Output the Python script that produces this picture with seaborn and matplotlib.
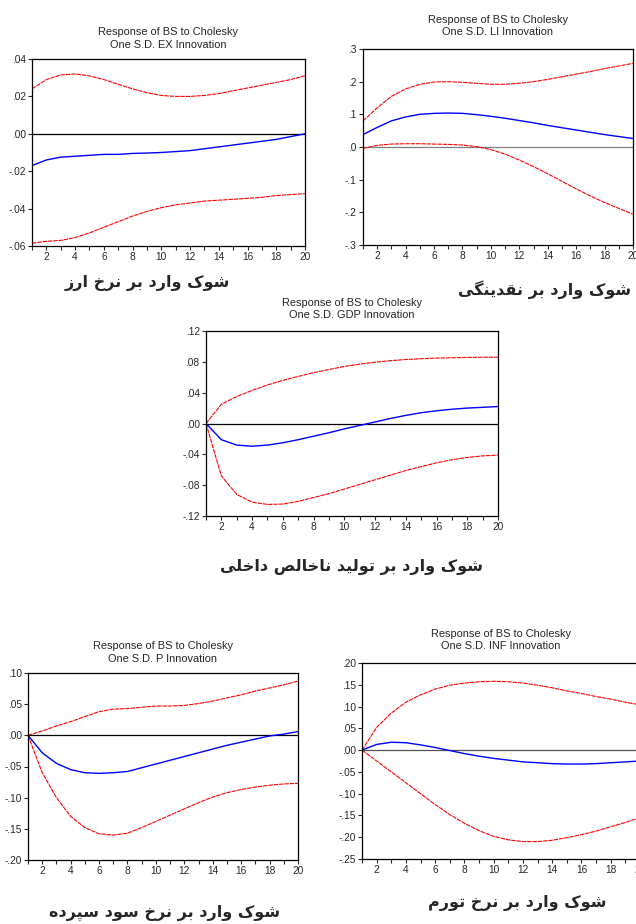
import numpy as np
import pandas as pd
import seaborn as sns
import matplotlib.pyplot as plt
from matplotlib.ticker import FuncFormatter

periods = list(range(1, 21))

# Response of BS to EX
ex_resp = [-0.017, -0.014, -0.0125, -0.012, -0.0115, -0.011, -0.011, -0.0105, -0.0103, -0.010,
           -0.0095, -0.009, -0.008, -0.007, -0.006, -0.005, -0.004, -0.003, -0.0015, 0.0]
ex_upper = [0.024, 0.029, 0.0315, 0.032, 0.031, 0.029, 0.0265, 0.024, 0.022, 0.0205,
            0.020, 0.020, 0.0205, 0.0215, 0.023, 0.0245, 0.026, 0.0275, 0.029, 0.031]
ex_lower = [-0.0585, -0.0575, -0.057, -0.0555, -0.053, -0.050, -0.047, -0.044, -0.0415, -0.0395,
            -0.038, -0.037, -0.036, -0.0355, -0.035, -0.0345, -0.034, -0.033, -0.0325, -0.032]

# Response of BS to LI
li_resp = [0.038, 0.06, 0.08, 0.092, 0.1, 0.103, 0.104, 0.103, 0.099, 0.094,
           0.088, 0.081, 0.074, 0.066, 0.059, 0.052, 0.045, 0.038, 0.032, 0.026]
li_upper = [0.08, 0.12, 0.155, 0.178, 0.192, 0.199, 0.2, 0.198, 0.195, 0.192,
            0.192, 0.195, 0.2, 0.207, 0.215, 0.223, 0.231, 0.24, 0.248, 0.256]
li_lower = [-0.004, 0.005, 0.009, 0.01, 0.01, 0.009, 0.008, 0.006, 0.001, -0.008,
            -0.022, -0.04, -0.06, -0.082, -0.105, -0.128, -0.15, -0.17, -0.188, -0.206]

# Response of BS to GDP
gdp_resp = [0.0, -0.021, -0.028, -0.0295, -0.028, -0.025, -0.021, -0.0165, -0.012, -0.007,
            -0.0025, 0.002, 0.0065, 0.0105, 0.014, 0.0165, 0.0185, 0.02, 0.021, 0.022]
gdp_upper = [0.0, 0.025, 0.035, 0.043, 0.05, 0.056, 0.061, 0.066, 0.07, 0.074,
             0.077, 0.0795, 0.0815, 0.083, 0.084, 0.0848, 0.0853, 0.0857, 0.086, 0.086]
gdp_lower = [0.0, -0.068, -0.092, -0.102, -0.105, -0.1045, -0.101, -0.096, -0.091, -0.085,
             -0.079, -0.073, -0.067, -0.061, -0.056, -0.051, -0.047, -0.044, -0.042, -0.041]

# Response of BS to P
p_resp = [0.0, -0.028, -0.045, -0.055, -0.06, -0.061, -0.06, -0.058, -0.052, -0.046,
          -0.04, -0.034, -0.028, -0.022, -0.016, -0.011, -0.006, -0.001, 0.002, 0.006]
p_upper = [0.0, 0.007, 0.015, 0.022, 0.03, 0.038, 0.042, 0.043, 0.045, 0.047,
           0.047, 0.048, 0.051, 0.055, 0.06, 0.065, 0.071, 0.076, 0.081, 0.087]
p_lower = [0.0, -0.06, -0.1, -0.13, -0.148, -0.158, -0.16, -0.157, -0.148, -0.138,
           -0.128, -0.118, -0.108, -0.099, -0.092, -0.087, -0.083, -0.08, -0.078, -0.077]

# Response of BS to INF
inf_resp = [0.0, 0.013, 0.018, 0.017, 0.012, 0.006, -0.001, -0.008, -0.014, -0.019,
            -0.023, -0.027, -0.029, -0.031, -0.032, -0.032, -0.031, -0.029, -0.027, -0.025]
inf_upper = [0.0, 0.052, 0.085, 0.11, 0.127, 0.14, 0.149, 0.154, 0.157, 0.158,
             0.157, 0.154, 0.149, 0.143, 0.136, 0.13, 0.123, 0.117, 0.11, 0.104]
inf_lower = [0.0, -0.025, -0.05, -0.075, -0.1, -0.125, -0.148, -0.168, -0.185, -0.198,
             -0.206, -0.21, -0.21, -0.207, -0.201, -0.194, -0.186, -0.176, -0.166, -0.155]

ex_ticks = [-0.06, -0.04, -0.02, 0.0, 0.02, 0.04]
li_ticks = [-0.3, -0.2, -0.1, 0.0, 0.1, 0.2, 0.3]
gdp_ticks = [-0.12, -0.08, -0.04, 0.0, 0.04, 0.08, 0.12]
p_ticks = [-0.20, -0.15, -0.10, -0.05, 0.0, 0.05, 0.10]
inf_ticks = [-0.25, -0.20, -0.15, -0.10, -0.05, 0.0, 0.05, 0.10, 0.15, 0.20]

# Persian letters -> (isolated, final, initial, medial); right-joining letters have no initial/medial
FORMS = {
    'ا': ('\uFE8D', '\uFE8E', None, None),
    'ب': ('\uFE8F', '\uFE90', '\uFE91', '\uFE92'),
    'پ': ('\uFB56', '\uFB57', '\uFB58', '\uFB59'),
    'ت': ('\uFE95', '\uFE96', '\uFE97', '\uFE98'),
    'خ': ('\uFEA5', '\uFEA6', '\uFEA7', '\uFEA8'),
    'د': ('\uFEA9', '\uFEAA', None, None),
    'ر': ('\uFEAD', '\uFEAE', None, None),
    'ز': ('\uFEAF', '\uFEB0', None, None),
    'س': ('\uFEB1', '\uFEB2', '\uFEB3', '\uFEB4'),
    'ش': ('\uFEB5', '\uFEB6', '\uFEB7', '\uFEB8'),
    'ص': ('\uFEB9', '\uFEBA', '\uFEBB', '\uFEBC'),
    'ق': ('\uFED5', '\uFED6', '\uFED7', '\uFED8'),
    'ک': ('\uFB8E', '\uFB8F', '\uFB90', '\uFB91'),
    'گ': ('\uFB92', '\uFB93', '\uFB94', '\uFB95'),
    'ل': ('\uFEDD', '\uFEDE', '\uFEDF', '\uFEE0'),
    'م': ('\uFEE1', '\uFEE2', '\uFEE3', '\uFEE4'),
    'ن': ('\uFEE5', '\uFEE6', '\uFEE7', '\uFEE8'),
    'ه': ('\uFEE9', '\uFEEA', '\uFEEB', '\uFEEC'),
    'و': ('\uFEED', '\uFEEE', None, None),
    'ی': ('\uFBFC', '\uFBFD', '\uFBFE', '\uFBFF'),
}


def shape(text):
    """ 简单的波斯文字形连接 + 反转为从左到右的显示顺序 """
    out = []
    for i, ch in enumerate(text):
        if ch not in FORMS:
            out.append(ch)
            continue
        prev = text[i - 1] if i > 0 else None
        nxt = text[i + 1] if i < len(text) - 1 else None
        jp = prev in FORMS and FORMS[prev][2] is not None
        jn = FORMS[ch][2] is not None and nxt in FORMS
        iso, fin, ini, med = FORMS[ch]
        if jp and jn:
            out.append(med)
        elif jp:
            out.append(fin)
        elif jn:
            out.append(ini)
        else:
            out.append(iso)
    return ''.join(reversed(out))


def fmt_tick(v, dec):
    s = f"{v:.{dec}f}"
    if abs(v) < 1e-9:
        s = f"{0:.{dec}f}"
    return s.replace("0.", ".", 1)


W, H = 636, 924


def box(l, t, r, b):
    return [l / W, 1 - b / H, (r - l) / W, (b - t) / H]


panels = [
    dict(name="EX", resp=ex_resp, up=ex_upper, lo=ex_lower, ticks=ex_ticks, dec=2,
         rect=(32, 59, 305, 246), pad=8, zero="black",
         caption="شوک وارد بر نرخ ارز", cap=(147, 283)),
    dict(name="LI", resp=li_resp, up=li_upper, lo=li_lower, ticks=li_ticks, dec=1,
         rect=(363, 49, 633, 245), pad=10, zero="#808080",
         caption="شوک وارد بر نقدینگی", cap=(545, 290)),
    dict(name="GDP", resp=gdp_resp, up=gdp_upper, lo=gdp_lower, ticks=gdp_ticks, dec=2,
         rect=(206, 331, 498, 516), pad=9, zero="black",
         caption="شوک وارد بر تولید ناخالص داخلی", cap=(351, 567)),
    dict(name="P", resp=p_resp, up=p_upper, lo=p_lower, ticks=p_ticks, dec=2,
         rect=(28, 673, 298, 860), pad=8, zero="black",
         caption="شوک وارد بر نرخ سود سپرده", cap=(165, 913)),
    dict(name="INF", resp=inf_resp, up=inf_upper, lo=inf_lower, ticks=inf_ticks, dec=2,
         rect=(362, 663, 640, 859), pad=10, zero="#555555",
         caption="شوک وارد بر نرخ تورم", cap=(517, 903)),
]

sns.set_style("ticks")
plt.rcParams['font.family'] = ['Liberation Sans', 'DejaVu Sans']

fig = plt.figure(figsize=(W / 100, H / 100), dpi=100)

for p in panels:
    ax = fig.add_axes(box(*p["rect"]))
    df = pd.DataFrame({"period": periods, "resp": p["resp"], "up": p["up"], "lo": p["lo"]})
    ax.axhline(0, color=p["zero"], lw=0.9, zorder=1)
    sns.lineplot(data=df, x="period", y="up", color="#ff0000", lw=0.8,
                 linestyle=(0, (4, 0.8)), ax=ax)
    sns.lineplot(data=df, x="period", y="lo", color="#ff0000", lw=0.8,
                 linestyle=(0, (4, 0.8)), ax=ax)
    sns.lineplot(data=df, x="period", y="resp", color="#0000ff", lw=1.0, ax=ax)

    ax.set_xlim(1, 20)
    ax.set_ylim(p["ticks"][0], p["ticks"][-1])
    ax.set_xticks(periods)
    ax.set_xticklabels([str(k) if k % 2 == 0 else "" for k in periods])
    ax.set_yticks(p["ticks"])
    dec = p["dec"]
    ax.yaxis.set_major_formatter(FuncFormatter(lambda v, pos, d=dec: fmt_tick(v, d)))
    ax.tick_params(direction="out", length=3, width=0.8, labelsize=7.3, pad=1.5)
    for s in ax.spines.values():
        s.set_visible(True)
        s.set_linewidth(0.9)
        s.set_color("black")
    ax.set_xlabel("")
    ax.set_ylabel("")
    ax.set_title(f"Response of BS to Cholesky\nOne S.D. {p['name']} Innovation",
                 fontsize=7.9, pad=p["pad"], linespacing=1.3)

    cx, cy = p["cap"]
    fig.text(cx / W, 1 - cy / H, shape(p["caption"]), ha="center", va="center",
             fontsize=11.5, fontweight="bold", family="DejaVu Sans")

fig.savefig("out.png", dpi=100)
